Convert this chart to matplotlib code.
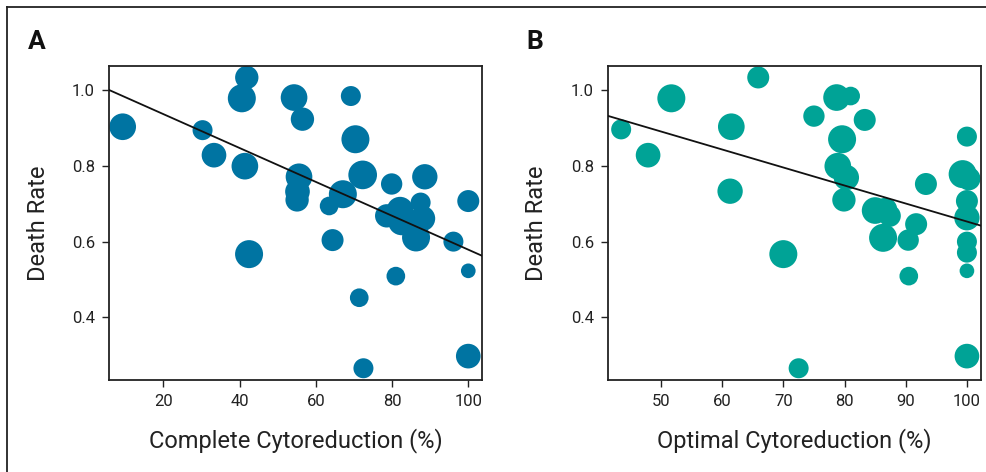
import numpy as np
import matplotlib.pyplot as plt
from matplotlib.lines import Line2D

# panel A: complete cytoreduction
a_x = [9.35, 30.3, 33.3, 40.6, 41.9, 41.4, 42.5, 54.3, 56.5, 55.6, 55.2, 55.1,
       63.5, 64.4, 67.1, 69.2, 70.4, 72.3, 71.4, 72.5, 79.9, 78.6, 82.1, 82.5,
       87.5, 88.0, 86.3, 88.6, 81.0, 96.1, 100, 100, 100]
a_y = [0.903, 0.894, 0.828, 0.978, 1.033, 0.799, 0.567, 0.980, 0.923, 0.771, 0.732, 0.710,
       0.694, 0.604, 0.725, 0.984, 0.870, 0.776, 0.452, 0.266, 0.752, 0.668, 0.683, 0.652,
       0.703, 0.661, 0.611, 0.771, 0.509, 0.600, 0.707, 0.523, 0.298]
a_w = [40, 30, 37, 42, 35, 40, 42, 40, 35, 40, 37, 35,
       28, 33, 42, 30, 42, 43, 28, 30, 32, 35, 40, 40,
       30, 38, 42, 38, 28, 30, 33, 22, 37]
a_fit = (1.0258, -0.00447)  # intercept, slope

# panel B: optimal cytoreduction
b_x = [43.5, 47.9, 51.7, 61.5, 61.3, 65.9, 70.0, 72.5, 75.0, 78.7, 81.0, 79.6,
       78.9, 80.3, 79.9, 83.3, 85.0, 86.7, 87.4, 86.3, 90.4, 90.5, 91.7, 93.3,
       100, 99.3, 100.3, 100, 100, 100, 100, 100, 100]
b_y = [0.896, 0.828, 0.978, 0.903, 0.733, 1.033, 0.567, 0.266, 0.931, 0.980, 0.984, 0.870,
       0.799, 0.769, 0.710, 0.921, 0.682, 0.685, 0.668, 0.610, 0.604, 0.509, 0.646, 0.752,
       0.877, 0.778, 0.766, 0.707, 0.663, 0.600, 0.571, 0.523, 0.298]
b_w = [30, 37, 42, 40, 38, 33, 42, 30, 32, 40, 28, 42,
       40, 38, 35, 33, 40, 35, 33, 42, 32, 28, 33, 33,
       30, 42, 35, 33, 38, 30, 30, 22, 37]
b_fit = (1.128, -0.00475)

plt.rcParams['font.family'] = ['Roboto', 'DejaVu Sans']

fig = plt.figure(figsize=(9.87, 4.72), dpi=100)

# outer frame (top and left edges visible)
fig.add_artist(Line2D([7/987, 7/987], [0, 1 - 7/472], color='#222222', lw=1.3))
fig.add_artist(Line2D([7/987, 1], [1 - 7/472, 1 - 7/472], color='#222222', lw=1.3))

panels = [
    ([109/987, 0.1949, 373/987, 0.6659], a_x, a_y, a_w, a_fit, '#0074A2',
     (5.76, 103.6), [20, 40, 60, 80, 100], 'Complete Cytoreduction (%)', 'A', 37/987),
    ([607.7/987, 0.1949, 373.3/987, 0.6659], b_x, b_y, b_w, b_fit, '#00A396',
     (41.3, 102.3), [50, 60, 70, 80, 90, 100], 'Optimal Cytoreduction (%)', 'B', 535/987),
]

for rect, x, y, w, fit, col, xl, xt, xlab, tag, tx in panels:
    ax = fig.add_axes(rect)
    s = (0.48 * np.array(w)) ** 2
    ax.scatter(x, y, s=s, color=col, edgecolors='none', zorder=2)
    lx = np.array(xl)
    ax.plot(lx, fit[0] + fit[1] * lx, color='#111111', lw=1.3, zorder=3)
    ax.set_xlim(xl)
    ax.set_ylim(0.235, 1.064)
    ax.set_xticks(xt)
    ax.set_yticks([0.4, 0.6, 0.8, 1.0])
    ax.set_yticklabels(['0.4', '0.6', '0.8', '1.0'])
    ax.tick_params(direction='out', length=5, width=1, colors='#222222',
                   labelsize=12, pad=5)
    for sp in ax.spines.values():
        sp.set_linewidth(1.3)
        sp.set_color('#222222')
    ax.set_xlabel(xlab, fontsize=17, color='#222222', labelpad=14)
    ax.set_ylabel('Death Rate', fontsize=17, color='#222222', labelpad=16)
    fig.text(tx, 1 - 42/472, tag, fontsize=19, fontweight='bold', color='#111111',
             ha='center', va='center')

fig.savefig('out.png', dpi=100)
